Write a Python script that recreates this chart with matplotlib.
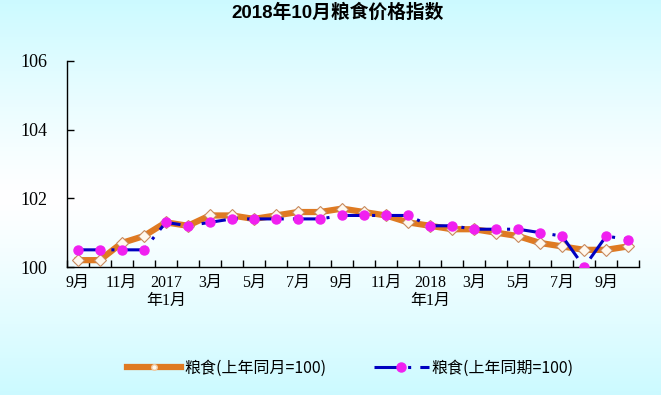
import matplotlib
matplotlib.use("Agg")
import matplotlib.pyplot as plt
from matplotlib.lines import Line2D
import numpy as np

plt.rcParams['font.family'] = ['Liberation Serif', 'Noto Sans CJK SC']

# data: Sep 2016 - Oct 2018
months = ['2016-09', '2016-10', '2016-11', '2016-12', '2017-01', '2017-02', '2017-03',
          '2017-04', '2017-05', '2017-06', '2017-07', '2017-08', '2017-09', '2017-10',
          '2017-11', '2017-12', '2018-01', '2018-02', '2018-03', '2018-04', '2018-05',
          '2018-06', '2018-07', '2018-08', '2018-09', '2018-10']
same_month = [100.2, 100.2, 100.7, 100.9, 101.3, 101.2, 101.5, 101.5, 101.4, 101.5,
              101.6, 101.6, 101.7, 101.6, 101.5, 101.3, 101.2, 101.1, 101.1, 101.0,
              100.9, 100.7, 100.6, 100.5, 100.5, 100.6]
same_period = [100.5, 100.5, 100.5, 100.5, 101.3, 101.2, 101.3, 101.4, 101.4, 101.4,
               101.4, 101.4, 101.5, 101.5, 101.5, 101.5, 101.2, 101.2, 101.1, 101.1,
               101.1, 101.0, 100.9, 100.0, 100.9, 100.8]
tick_labels = ['9月', '11月', '2017\n年1月', '3月', '5月', '7月', '9月', '11月',
               '2018\n年1月', '3月', '5月', '7月', '9月']
yticks = [100, 102, 104, 106]

fig = plt.figure(figsize=(6.61, 3.95), dpi=100)

# background gradient (cyan -> white -> cyan)
bg = fig.add_axes([0, 0, 1, 1], zorder=-10)
t = np.linspace(0, 1, 256)
w = np.clip(np.abs(t - 0.5) * 2, 0, 1) ** 1.2
top = np.array([0.80, 0.98, 1.0])
col = (1 - w)[:, None] * np.array([1.0, 1.0, 1.0]) + w[:, None] * top
bg.imshow(col[:, None, :], aspect='auto', extent=[0, 1, 0, 1])
bg.axis('off')

ax = fig.add_axes([0.101, 0.324, 0.866, 0.522])
ax.set_facecolor('none')
x = np.arange(len(months))

ax.plot(x, same_month, color='#DF7A22', lw=4.5, marker='D', ms=6.5,
        mfc='#FFF8EE', mec='#C88A5E', mew=0.8, zorder=3)
ax.plot(x, same_period, color='#0000C0', lw=2.2, ls=(0, (8, 3, 1, 3)),
        marker='o', ms=6.5, mfc='#F020F0', mec='#F020F0', zorder=4)

ax.set_xlim(-0.5, len(months) - 0.5)
ax.set_ylim(100, 106)
ax.set_yticks(yticks)
ax.set_yticklabels([str(v) for v in yticks], fontsize=13)
ax.set_xticks(x[::2])
ax.set_xticklabels(tick_labels, fontsize=11.5, linespacing=1.1)
ax.set_xticks(np.arange(len(months) + 1) - 0.5, minor=True)
ax.tick_params(axis='x', which='major', length=0, pad=6)
ax.tick_params(axis='x', which='minor', direction='in', length=5, width=1)
ax.tick_params(axis='y', direction='in', length=5, width=1, pad=24)
for lab in ax.get_yticklabels():
    lab.set_horizontalalignment('center')
for s in ['top', 'right']:
    ax.spines[s].set_visible(False)
for s in ['left', 'bottom']:
    ax.spines[s].set_linewidth(1)

fig.text(0.51, 0.968, '2018年10月粮食价格指数', ha='center', va='center',
         fontsize=13.5, fontweight='bold', family=['Liberation Sans', 'Noto Sans CJK SC'])

h1 = Line2D([], [], color='#DF7A22', lw=4.5, marker='o', ms=4, mfc='#FFF8EE',
            mec='#F0C8A0')
h2 = Line2D([], [], color='#0000C0', lw=2.2, ls=(0, (8, 3, 1, 3)), marker='o', ms=6.5,
            mfc='#F020F0', mec='#F020F0')
leg = fig.legend([h1, h2], ['粮食(上年同月=100)', '粮食(上年同期=100)'],
                 loc='center', bbox_to_anchor=(0.53, 0.068), ncol=2, frameon=False,
                 handlelength=3.4, handletextpad=0.2, columnspacing=3.0,
                 prop={'family': ['Noto Sans CJK SC'], 'size': 11.5})

fig.savefig('out.png', dpi=100)
